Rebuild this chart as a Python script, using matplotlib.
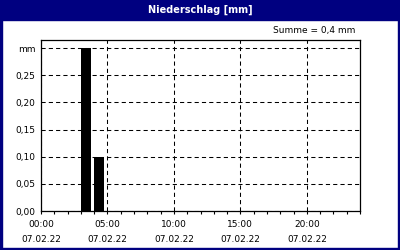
import matplotlib.pyplot as plt
import numpy as np

# hourly precipitation, 07.02.22
hours = [3, 4]
rain = [0.30, 0.10]
xticks = [0, 5, 10, 15, 20]
xlabels = ['00:00\n07.02.22', '05:00\n07.02.22', '10:00\n07.02.22',
           '15:00\n07.02.22', '20:00\n07.02.22']
yticks = [0.0, 0.05, 0.10, 0.15, 0.20, 0.25, 0.30]
ylabels = ['0,00', '0,05', '0,10', '0,15', '0,20', '0,25', 'mm']

navy = '#000080'
W, H = 400, 250

fig = plt.figure(figsize=(4, 2.5), dpi=100)
fig.patch.set_facecolor('white')

# header band and frame
fig.patches.append(plt.Rectangle((0, 1 - 20 / H), 1, 20 / H, transform=fig.transFigure,
                                 color=navy, zorder=0))
for r in [(0, 0, 2 / W, 1), (1 - 2 / W, 0, 2 / W, 1), (0, 0, 1, 2 / H)]:
    fig.patches.append(plt.Rectangle(r[:2], r[2], r[3], transform=fig.transFigure,
                                     color=navy, zorder=0))
fig.text(0.5, 1 - 10 / H, 'Niederschlag [mm]', color='white', fontsize=7,
         fontweight='bold', ha='center', va='center')
fig.text(355 / W, 1 - 31 / H, 'Summe = 0,4 mm', fontsize=6.5, ha='right', va='center')

ax = fig.add_axes([41 / W, 1 - 211 / H, 319 / W, 171 / H])
ax.bar(hours, rain, width=0.75, align='edge', color='black', zorder=3)

ax.set_xlim(0, 24)
ax.set_ylim(0, 0.3148)
ax.set_xticks(xticks)
ax.set_xticklabels(xlabels, fontsize=6.5, linespacing=1.9)
ax.set_xticks(np.arange(0, 25, 1), minor=True)
ax.set_yticks(yticks)
ax.set_yticklabels(ylabels, fontsize=6.5)
ax.tick_params(axis='x', which='both', length=2.5, width=0.8, pad=4)
ax.tick_params(axis='y', length=0, pad=4)

ax.grid(True, which='major', color='black', linewidth=0.75, linestyle=(0, (4, 3)))
for s in ax.spines.values():
    s.set_linewidth(0.9)

plt.savefig('out.png', dpi=100)
